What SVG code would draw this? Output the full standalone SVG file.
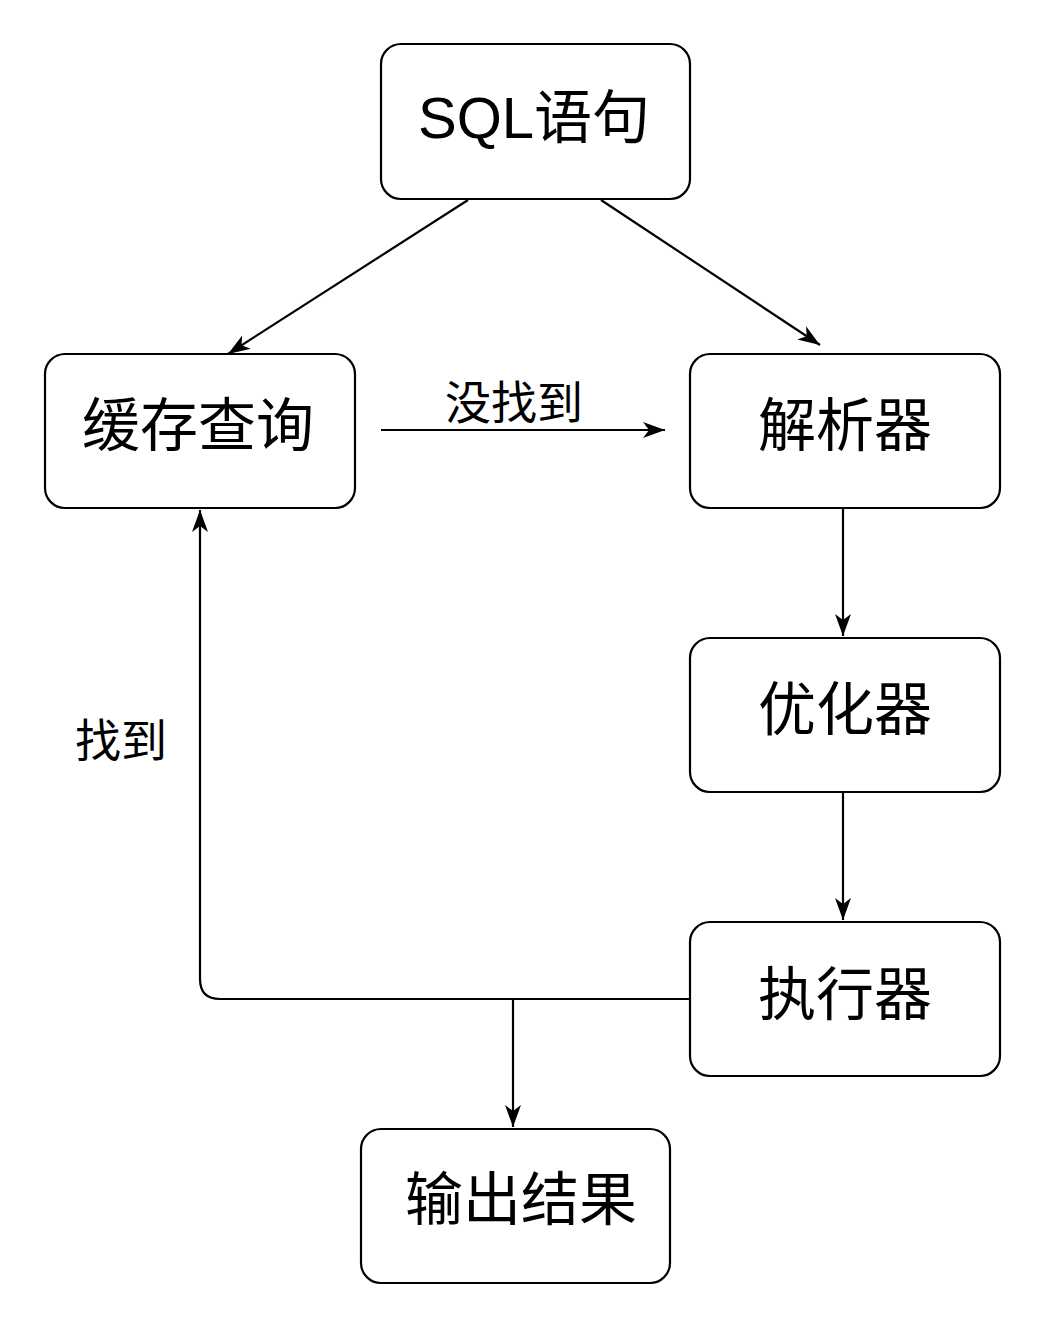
<svg xmlns="http://www.w3.org/2000/svg" width="1058" height="1328" viewBox="0 0 1058 1328">
<style>
.box{fill:#fff;stroke:#000;stroke-width:2.2}
.lbl{font-family:"Liberation Sans","Noto Sans CJK SC",sans-serif;font-size:58px;fill:#000;text-anchor:middle;dominant-baseline:central}
.edge{fill:none;stroke:#000;stroke-width:2.2}
.elbl{font-family:"Noto Sans CJK SC",sans-serif;font-size:46px;fill:#000;text-anchor:middle;dominant-baseline:central}
</style>
<defs>
<marker id="arr" markerUnits="userSpaceOnUse" markerWidth="24" markerHeight="20" viewBox="0 0 24 20" refX="22" refY="10" orient="auto">
<path d="M0,2 L22,10 L0,18 L6,10 Z" fill="#000"/>
</marker>
</defs>
<rect width="1058" height="1328" fill="#fff"/>
<g id="connectors">
<line class="edge" x1="468" y1="200" x2="228" y2="354" marker-end="url(#arr)"/>
<line class="edge" x1="601" y1="200" x2="820" y2="345" marker-end="url(#arr)"/>
<line class="edge" x1="381" y1="430" x2="665" y2="430" marker-end="url(#arr)"/>
<line class="edge" x1="843" y1="508" x2="843" y2="636" marker-end="url(#arr)"/>
<line class="edge" x1="843" y1="792" x2="843" y2="920" marker-end="url(#arr)"/>
<path class="edge" d="M690,999 L220,999 Q200,999 200,979 L200,510" marker-end="url(#arr)"/>
<line class="edge" x1="513" y1="999" x2="513" y2="1127" marker-end="url(#arr)"/>
<text class="elbl" x="514" y="399">没找到</text>
<text class="elbl" x="121" y="737">找到</text>
</g>
<g id="n-sql">
<rect class="box" x="381" y="44" width="309" height="155" rx="20"/>
<text class="lbl" x="534" y="117">SQL语句</text>
</g>
<g id="n-cache">
<rect class="box" x="45" y="354" width="310" height="154" rx="20"/>
<text class="lbl" x="198" y="425">缓存查询</text>
</g>
<g id="n-parser">
<rect class="box" x="690" y="354" width="310" height="154" rx="20"/>
<text class="lbl" x="845" y="425">解析器</text>
</g>
<g id="n-opt">
<rect class="box" x="690" y="638" width="310" height="154" rx="20"/>
<text class="lbl" x="845" y="709">优化器</text>
</g>
<g id="n-exec">
<rect class="box" x="690" y="922" width="310" height="154" rx="20"/>
<text class="lbl" x="845" y="994">执行器</text>
</g>
<g id="n-out">
<rect class="box" x="361" y="1129" width="309" height="154" rx="20"/>
<text class="lbl" x="521" y="1199">输出结果</text>
</g>
</svg>
